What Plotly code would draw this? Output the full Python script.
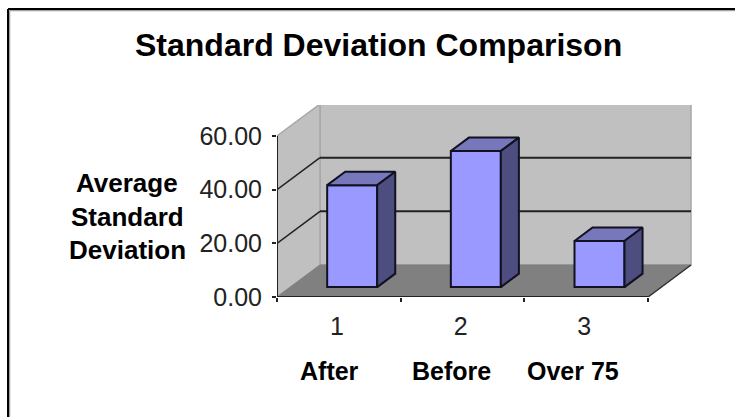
import plotly.graph_objects as go

# ---- data ----
groups = ["After", "Before", "Over 75"]
category_ticks = ["1", "2", "3"]
values = [38.0, 50.7, 17.2]
y_ticks = [0, 20, 40, 60]
y_tick_labels = ["0.00", "20.00", "40.00", "60.00"]
y_title_lines = ["Average", "Standard", "Deviation"]
title_text = "Standard Deviation Comparison"

# ---- projection of the pseudo 3D box (in axis units) ----
W, H = 735, 417
LEFT, RIGHT_PX, TOP, BASE = 277, 692, 105, 297
PX_PER_CAT = 123.67
PX_PER_VAL = 2.683
X_MAX = (RIGHT_PX - LEFT) / PX_PER_CAT
Y_MAX = (BASE - TOP) / PX_PER_VAL
DX = 43 / PX_PER_CAT      # depth 1 -> shift in category units
DY = 32 / PX_PER_VAL      # depth 1 -> shift in value units
BAR_W = 50 / PX_PER_CAT
D0, D1 = 0.31, 0.73       # bar depth range
WALL_TOP = 60


def P(c, v, d):
    return c + d * DX, v + d * DY


def poly_path(pts):
    return "M " + " L ".join(f"{x},{y}" for x, y in pts) + " Z"


n = len(values)
shapes = []


def add_poly(pts, fill, line="#8c8c8c", lw=1):
    shapes.append(dict(type="path", xref="x", yref="y", layer="below", path=poly_path(pts),
                       fillcolor=fill, line=dict(color=line, width=lw)))


def add_line(a, b, color="#1a1a1a", lw=2):
    shapes.append(dict(type="line", xref="x", yref="y", layer="below", x0=a[0], y0=a[1], x1=b[0], y1=b[1],
                       line=dict(color=color, width=lw)))


# back wall, side wall, floor
add_poly([P(0, 0, 1), P(n, 0, 1), P(n, WALL_TOP, 1), P(0, WALL_TOP, 1)], "#c0c0c0", "#a8a8a8", 1.5)
add_poly([P(0, 0, 0), P(0, 0, 1), P(0, WALL_TOP, 1), P(0, WALL_TOP, 0)], "#c0c0c0", "#a8a8a8", 1.5)
add_poly([P(0, 0, 0), P(n, 0, 0), P(n, 0, 1), P(0, 0, 1)], "#808080", "#808080")
# gridlines
for t in y_ticks[1:-1]:
    add_line(P(0, t, 0), P(0, t, 1), "#222222", 1.5)
    add_line(P(0, t, 1), P(n, t, 1), "#222222", 2)
# axis lines and floor edge
add_line(P(0, 0, 0), P(0, WALL_TOP, 0), "#222222", 2)
add_line(P(0, 0, 0), P(n, 0, 0), "#222222", 2)
add_line(P(n, 0, 0), P(n, 0, 1), "#333333", 1.5)

# outer frame (paper coordinates)
pw, ph = RIGHT_PX - LEFT, BASE - TOP
fx = lambda px: (px - LEFT) / pw
fy = lambda py: (BASE - py) / ph
for off, col, lw in [(1.5, "#a0a0a0", 1.5), (0, "black", 2)]:
    shapes.append(dict(type="line", xref="paper", yref="paper", x0=fx(8 + off), x1=fx(W), y0=fy(9 + off), y1=fy(9 + off),
                       line=dict(color=col, width=lw)))
    shapes.append(dict(type="line", xref="paper", yref="paper", x0=fx(8 + off), x1=fx(8 + off), y0=fy(9 + off), y1=fy(H),
                       line=dict(color=col, width=lw)))

fig = go.Figure()

centers = [i + 0.5 for i in range(n)]
front_x = [P(c, 0, D0)[0] for c in centers]
front_base = [P(c, 0, D0)[1] for c in centers]
fig.add_trace(go.Bar(x=front_x, y=values, base=front_base, width=BAR_W,
                     marker=dict(color="#9999ff", line=dict(color="#111122", width=2)),
                     name="Average Standard Deviation", showlegend=False))


def face(pts, fill):
    xs = [p[0] for p in pts] + [pts[0][0]]
    ys = [p[1] for p in pts] + [pts[0][1]]
    fig.add_trace(go.Scatter(x=xs, y=ys, mode="lines", fill="toself", fillcolor=fill,
                             line=dict(color="#111122", width=2), showlegend=False,
                             hoverinfo="skip", cliponaxis=False))


for c, v in zip(centers, values):
    l, r = c - BAR_W / 2, c + BAR_W / 2
    face([P(l, v, D0), P(r, v, D0), P(r, v, D1), P(l, v, D1)], "#7777bb")
    face([P(r, 0, D0), P(r, 0, D1), P(r, v, D1), P(r, v, D0)], "#4d4d80")

annotations = [dict(text=f"<b>{g}</b>", x=c, xref="x", y=0, yref="paper", yanchor="middle",
                    yshift=297 - 371, xshift=-9 - (i * 2), showarrow=False,
                    font=dict(family="Liberation Sans", size=25, color="black"))
               for i, (g, c) in enumerate(zip(groups, centers))]
for line, py in zip(y_title_lines, [183, 217, 250]):
    annotations.append(dict(text=f"<b>{line}</b>", xref="paper", yref="paper", x=fx(127), y=fy(py),
                            yanchor="middle", xanchor="center", showarrow=False,
                            font=dict(family="Liberation Sans", size=26, color="black")))
annotations.append(dict(text=f"<b>{title_text}</b>", xref="paper", yref="paper", x=fx(378), y=fy(45),
                        yanchor="middle", xanchor="center", showarrow=False,
                        font=dict(family="Liberation Sans", size=32, color="black")))

fig.update_layout(
    width=W, height=H, autosize=False,
    margin=dict(l=LEFT, r=W - RIGHT_PX, t=TOP, b=H - BASE, pad=0),
    paper_bgcolor="white", plot_bgcolor="rgba(0,0,0,0)",
    showlegend=False, shapes=shapes, annotations=annotations,
    xaxis=dict(range=[0, X_MAX], showgrid=False, zeroline=False, showline=False,
               tickmode="array", tickvals=[c - 0.015 for c in centers], ticktext=category_ticks, ticks="", ticklen=0,
               ticklabelstandoff=12,
               tickfont=dict(family="Liberation Sans", size=25, color="#222222"),
               minor=dict(tickmode="array", tickvals=list(range(n + 1)), ticks="outside", ticklen=4,
                          tickwidth=2, tickcolor="#222222")),
    yaxis=dict(range=[0, Y_MAX], showgrid=False, zeroline=False, showline=False,
               tickmode="array", tickvals=y_ticks, ticktext=y_tick_labels, ticks="outside", ticklen=4,
               tickwidth=2, tickcolor="#222222", ticklabelstandoff=5,
               tickfont=dict(family="Liberation Sans", size=25, color="#222222")),
)

fig.write_html("out.html", config=dict(displayModeBar=False),
               post_script="document.body.style.margin='0';document.documentElement.style.overflow='hidden';")
